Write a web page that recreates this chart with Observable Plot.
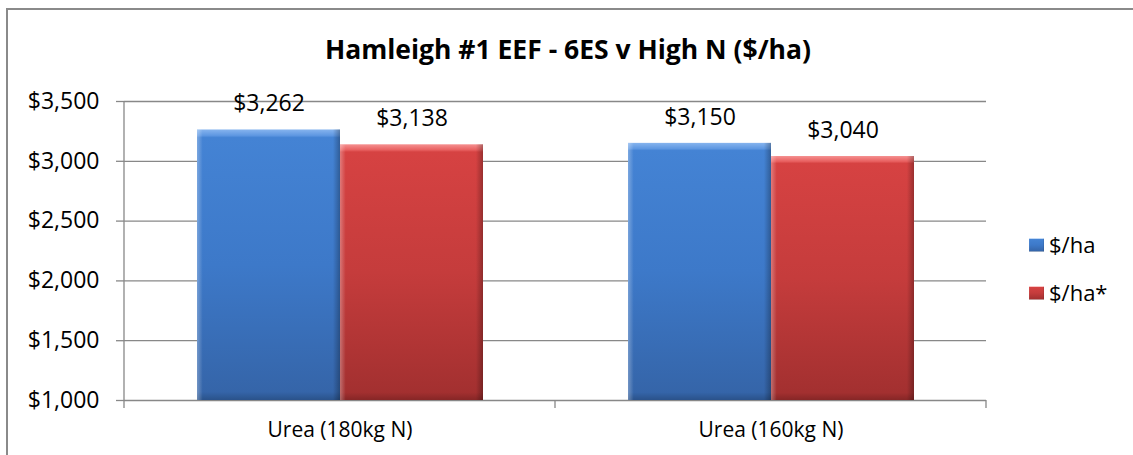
<!DOCTYPE html>
<html><head><meta charset="utf-8">
<script src="https://cdn.jsdelivr.net/npm/d3@7"></script>
<script src="https://cdn.jsdelivr.net/npm/@observablehq/plot@0.6"></script>
<style>
body{margin:0;background:#fff;}
#wrap{position:relative;width:1133px;height:455px;overflow:hidden;font-family:"Open Sans",sans-serif;}
#border{position:absolute;left:6px;top:8px;width:1140px;height:460px;border:2px solid #8a8a8a;box-sizing:border-box;}
#chart{position:absolute;left:0;top:0;}
#overlay{position:absolute;left:0;top:0;}
</style></head>
<body>
<svg width="0" height="0" style="position:absolute">
  <defs>
    <linearGradient id="gBlue" x1="0" y1="0" x2="0" y2="1">
      <stop offset="0" stop-color="#86b4ee"/>
      <stop offset="0.022" stop-color="#5f98e2"/>
      <stop offset="0.03" stop-color="#4483d4"/>
      <stop offset="0.5" stop-color="#3d79c9"/>
      <stop offset="0.97" stop-color="#3565a9"/>
      <stop offset="1" stop-color="#2a528a"/>
    </linearGradient>
    <linearGradient id="gRed" x1="0" y1="0" x2="0" y2="1">
      <stop offset="0" stop-color="#f59090"/>
      <stop offset="0.022" stop-color="#e86060"/>
      <stop offset="0.03" stop-color="#d64242"/>
      <stop offset="0.5" stop-color="#c53c3c"/>
      <stop offset="0.97" stop-color="#a33030"/>
      <stop offset="1" stop-color="#862626"/>
    </linearGradient>
    <linearGradient id="gEdge" x1="0" y1="0" x2="1" y2="0">
      <stop offset="0" stop-color="#fff" stop-opacity="0.3"/>
      <stop offset="0.04" stop-color="#fff" stop-opacity="0"/>
      <stop offset="0.95" stop-color="#000" stop-opacity="0"/>
      <stop offset="1" stop-color="#000" stop-opacity="0.28"/>
    </linearGradient>
  </defs>
</svg>
<div id="wrap">
  <div id="border"></div>
  <div id="chart"></div>
  <svg id="overlay" width="1133" height="455"></svg>
</div>
<script>
const title = "Hamleigh #1 EEF - 6ES v High N ($/ha)";
const categories = ["Urea (180kg N)", "Urea (160kg N)"];
const series = ["$/ha", "$/ha*"];
const valuesPerHa = [3262, 3150];
const valuesPerHaStar = [3138, 3040];
const yTicks = [1000, 1500, 2000, 2500, 3000, 3500];
const fills = ["url(#gBlue)", "url(#gRed)"];

const data = [];
categories.forEach((c, i) => {
  data.push({category: c, series: series[0], value: valuesPerHa[i]});
  data.push({category: c, series: series[1], value: valuesPerHaStar[i]});
});

const money = d => "$" + d3.format(",")(d);

const chart = Plot.plot({
  width: 1133,
  height: 455,
  marginTop: 101,
  marginBottom: 55,
  marginLeft: 123,
  marginRight: 147,
  style: {fontFamily: "'Open Sans', sans-serif", color: "#000", background: "transparent", overflow: "visible"},
  fx: {domain: categories, padding: 0, label: null},
  x: {domain: series, paddingInner: 0, paddingOuter: 0.5, axis: null},
  y: {domain: [1000, 3500], label: null},
  color: {domain: series, range: fills},
  marks: [
    Plot.axisY({ticks: yTicks, tickFormat: money, tickSize: 8, tickPadding: 17, fontSize: 23, stroke: "#888", strokeWidth: 1.3, strokeOpacity: 1, label: null}),
    Plot.gridY(yTicks, {stroke: "#888", strokeWidth: 1.3, strokeOpacity: 1}),
    Plot.axisFx({anchor: "bottom", tickSize: 0, tickPadding: 22, fontSize: 21, label: null}),
    Plot.barY(data, {fx: "category", x: "series", y1: 1000, y2: "value", fill: "series"}),
    Plot.barY(data, {fx: "category", x: "series", y1: 1000, y2: "value", fill: "url(#gEdge)"}),
    Plot.text(data, {fx: "category", x: "series", y: "value", text: d => money(d.value), dy: -26, fontSize: 23, fill: "#000", lineAnchor: "middle"})
  ]
});
document.getElementById("chart").appendChild(chart);

// axis line and category boundary ticks using the Plot scales
const fxS = chart.scale("fx"), yS = chart.scale("y");
const svg = d3.select(chart);
const yBottom = yS.apply(1000), yTop = yS.apply(3500);
const left = fxS.apply(categories[0]);
svg.append("line").attr("x1", left).attr("x2", left).attr("y1", yTop).attr("y2", yBottom + 8)
  .attr("stroke", "#888").attr("stroke-width", 1.3);
categories.forEach(c => {
  const xr = fxS.apply(c) + fxS.bandwidth;
  svg.append("line").attr("x1", xr).attr("x2", xr).attr("y1", yBottom).attr("y2", yBottom + 8)
    .attr("stroke", "#888").attr("stroke-width", 1.3);
});

// title and legend
const ov = d3.select("#overlay");
ov.append("text").attr("x", 568).attr("y", 59).attr("text-anchor", "middle")
  .attr("font-family", "'Open Sans', sans-serif").attr("font-weight", "bold").attr("font-size", 26.5)
  .text(title);
series.forEach((s, i) => {
  const cy = 245 + i * 48;
  ov.append("rect").attr("x", 1029).attr("y", cy - 6.5).attr("width", 15).attr("height", 13).attr("fill", fills[i]);
  ov.append("rect").attr("x", 1029).attr("y", cy - 6.5).attr("width", 15).attr("height", 13).attr("fill", "url(#gEdge)");
  ov.append("text").attr("x", 1049).attr("y", cy).attr("dy", "0.35em")
    .attr("font-family", "'Open Sans', sans-serif").attr("font-size", 22).text(s);
});
</script>
</body></html>
